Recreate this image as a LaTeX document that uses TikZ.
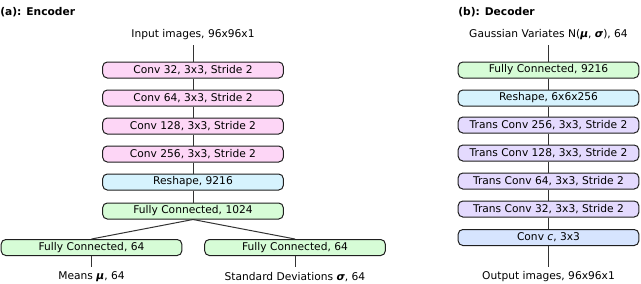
\documentclass[tikz,border=0pt]{standalone}
\usepackage{fontspec}
\setmainfont{DejaVu Sans}
\definecolor{convpink}{RGB}{253,214,246}
\definecolor{reshblue}{RGB}{214,243,254}
\definecolor{fcgreen}{RGB}{214,252,214}
\definecolor{tconvlil}{RGB}{228,218,254}
\definecolor{outblue}{RGB}{214,228,254}
\newcommand{\bmu}{\textbf{\textit{μ}}}
\newcommand{\bsig}{\textbf{\textit{σ}}}
\begin{document}
\begin{tikzpicture}[
  x=0.75pt,y=-0.75pt,
  every node/.style={font=\fontsize{8}{9.6}\selectfont},
  layer/.style={draw=black!88,line width=0.75pt,rounded corners=3.5pt,minimum width=135.5pt,minimum height=12pt,inner sep=0pt},
  lbl/.style={inner xsep=1.5pt,inner ysep=3.5pt},
  ttl/.style={font=\fontsize{8}{9.6}\selectfont\bfseries,anchor=west,inner sep=0pt},
  link/.style={draw=black!80,line width=0.75pt}
]
\useasboundingbox (0,0) rectangle (641,283);
% encoder
\node[ttl] (ta) at (0,12) {(a): Encoder};
\node[lbl] (in) at (193,35) {Input images, 96x96x1};
\node[layer,fill=convpink] (c1) at (193,70) {Conv 32, 3x3, Stride 2};
\node[layer,fill=convpink] (c2) at (193,98) {Conv 64, 3x3, Stride 2};
\node[layer,fill=convpink] (c3) at (193,126) {Conv 128, 3x3, Stride 2};
\node[layer,fill=convpink] (c4) at (193,154) {Conv 256, 3x3, Stride 2};
\node[layer,fill=reshblue] (rs) at (193,182) {Reshape, 9216};
\node[layer,fill=fcgreen] (fc) at (193,211) {Fully Connected, 1024};
\node[layer,fill=fcgreen] (fm) at (91.5,247.5) {Fully Connected, 64};
\node[layer,fill=fcgreen] (fs) at (295,247.5) {Fully Connected, 64};
\node[lbl] (mu) at (91.5,277) {Means \bmu, 64};
\node[lbl] (sd) at (295,277) {Standard Deviations \bsig, 64};
\draw[link] (in)--(c1);
\draw[link] (c1)--(c2);
\draw[link] (c2)--(c3);
\draw[link] (c3)--(c4);
\draw[link] (c4)--(rs);
\draw[link] (rs)--(fc);
\draw[link] (fc.south)--(fm.north);
\draw[link] (fc.south)--(fs.north);
\draw[link] (fm)--(mu);
\draw[link] (fs)--(sd);
% decoder
\node[ttl] (tb) at (458,12) {(b): Decoder};
\node[lbl] (gv) at (548.5,35) {Gaussian Variates N(\bmu, \bsig), 64};
\node[layer,fill=fcgreen] (d1) at (548.5,70) {Fully Connected, 9216};
\node[layer,fill=reshblue] (d2) at (548.5,98) {Reshape, 6x6x256};
\node[layer,fill=tconvlil] (d3) at (548.5,125) {Trans Conv 256, 3x3, Stride 2};
\node[layer,fill=tconvlil] (d4) at (548.5,153) {Trans Conv 128, 3x3, Stride 2};
\node[layer,fill=tconvlil] (d5) at (548.5,181) {Trans Conv 64, 3x3, Stride 2};
\node[layer,fill=tconvlil] (d6) at (548.5,209) {Trans Conv 32, 3x3, Stride 2};
\node[layer,fill=outblue] (d7) at (548.5,237.5) {Conv \textit{c}, 3x3};
\node[lbl] (out) at (548.5,277) {Output images, 96x96x1};
\draw[link] (gv)--(d1);
\draw[link] (d1)--(d2);
\draw[link] (d2)--(d3);
\draw[link] (d3)--(d4);
\draw[link] (d4)--(d5);
\draw[link] (d5)--(d6);
\draw[link] (d6)--(d7);
\draw[link] (d7)--(out);
\end{tikzpicture}
\end{document}
